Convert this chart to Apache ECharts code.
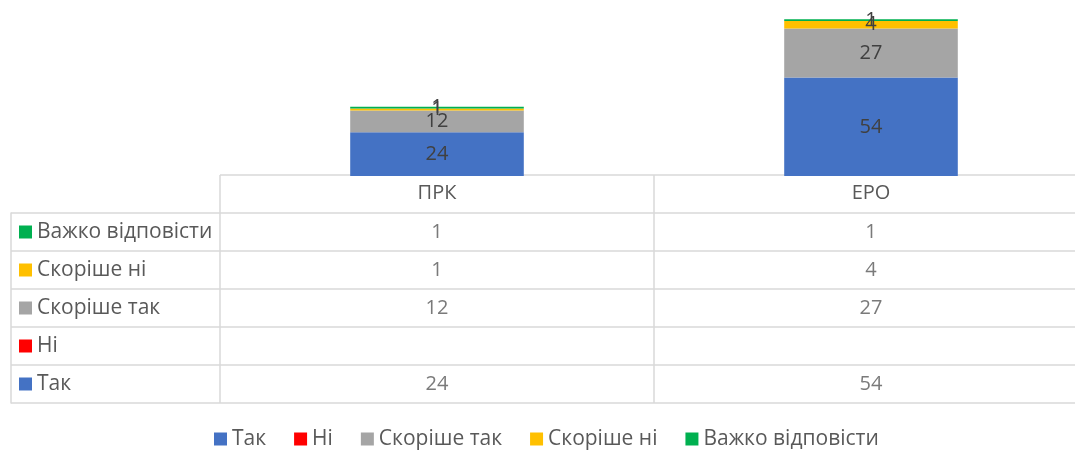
<!DOCTYPE html>
<html><head><meta charset="utf-8">
<script src="https://cdn.jsdelivr.net/npm/echarts@6/dist/echarts.min.js"></script>
<style>html,body{margin:0;padding:0;background:#fff}#c{width:1075px;height:450px}</style>
</head><body><div id="c"></div>
<script>
const categories = ['ПРК', 'ЕРО'];
const seriesNames = ['Так', 'Ні', 'Скоріше так', 'Скоріше ні', 'Важко відповісти'];
const tak = [24, 54];
const ni = [null, null];
const skorisheTak = [12, 27];
const skorisheNi = [1, 4];
const vazhko = [1, 1];
const colors = ['#4472C4', '#FF0000', '#A5A5A5', '#FFC000', '#00B050'];

const values = [tak, ni, skorisheTak, skorisheNi, vazhko];
const FONT = 'Open Sans';
const TXT = '#595959';
const LINE = '#d9d9d9';

// table rows: bottom to top = series order, plus header row at top
const tableRows = seriesNames.concat(['']);
const tableData = [];
values.forEach((arr, si) => arr.forEach((v, ci) => {
  if (v !== null) tableData.push([ci, si, v]);
}));

const rich = {};
seriesNames.forEach((n, i) => { rich['s' + i] = { width: 13, height: 13, backgroundColor: colors[i] }; });
rich.t = { fontSize: 21, color: TXT, fontFamily: FONT, padding: [0, 0, 0, 5] };

const chart = echarts.init(document.getElementById('c'), null, { renderer: 'canvas' });
chart.setOption({
  animation: false,
  textStyle: { fontFamily: FONT },
  color: colors,
  legend: {
    data: seriesNames, top: 428, left: 214, padding: 0,
    icon: 'rect', itemWidth: 13, itemHeight: 13, itemGap: 28,
    textStyle: { fontSize: 21, lineHeight: 22, color: TXT, fontFamily: FONT }
  },
  grid: [
    { left: 220, width: 868, top: 12, height: 164, outerBoundsMode: 'none', containLabel: false },
    { left: 220, width: 868, top: 175, height: 228, outerBoundsMode: 'none', containLabel: false },
    { left: 11, width: 209, top: 213, height: 190, outerBoundsMode: 'none', containLabel: false }
  ],
  xAxis: [
    { gridIndex: 0, type: 'category', data: categories, axisLine: { show: false }, axisTick: { show: false }, axisLabel: { show: false } },
    { gridIndex: 1, type: 'category', data: categories, position: 'top',
      axisLine: { show: false }, axisTick: { show: false },
      axisLabel: { inside: true, margin: 8, fontSize: 20, color: TXT, fontFamily: FONT },
      splitLine: { show: true, lineStyle: { color: LINE, width: 1.5 } } },
    { gridIndex: 2, type: 'value', min: 0, max: 1, show: false }
  ],
  yAxis: [
    { gridIndex: 0, type: 'value', min: 0, max: 90, show: false },
    { gridIndex: 1, type: 'category', data: tableRows, axisLine: { show: false }, axisTick: { show: false }, axisLabel: { show: false },
      splitLine: { show: true, lineStyle: { color: LINE, width: 1.5 } } },
    { gridIndex: 2, type: 'category', data: seriesNames,
      axisLine: { show: true, lineStyle: { color: LINE, width: 1.5 } }, axisTick: { show: false },
      axisLabel: { align: 'left', margin: -8, formatter: (v) => '{s' + seriesNames.indexOf(v) + '|}{t|' + v + '}', rich: rich },
      splitLine: { show: true, lineStyle: { color: LINE, width: 1.5 } } }
  ],
  series: seriesNames.map((n, i) => ({
    name: n, type: 'bar', stack: 'total', xAxisIndex: 0, yAxisIndex: 0,
    barCategoryGap: '60%', data: values[i],
    itemStyle: { color: colors[i] },
    label: { show: true, position: 'inside', fontSize: 20, color: '#404040', fontFamily: FONT }
  })).concat([{
    name: '__table', type: 'scatter', xAxisIndex: 1, yAxisIndex: 1,
    data: tableData, symbolSize: 1, itemStyle: { color: 'rgba(0,0,0,0)' },
    label: { show: true, position: 'inside', formatter: (p) => String(p.value[2]), fontSize: 20, color: TXT, fontFamily: FONT }
  }])
});
</script></body></html>
